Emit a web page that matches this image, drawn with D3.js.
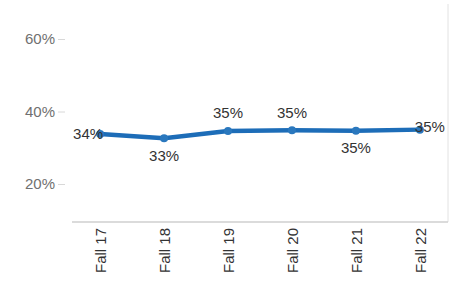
<!DOCTYPE html>
<html>
<head>
<meta charset="utf-8">
<script src="https://cdn.jsdelivr.net/npm/d3@7"></script>
<style>
  body { margin: 0; background: #fff; }
  svg { display: block; font-family: "Liberation Sans", Arial, sans-serif; }
</style>
</head>
<body>
<div id="chart"></div>
<script>
const terms = ["Fall 17", "Fall 18", "Fall 19", "Fall 20", "Fall 21", "Fall 22"];
const rates = [33.8, 32.6, 34.6, 34.8, 34.7, 35.0];
// where each value label sits relative to its point
const labelPos = ["left", "below", "above", "above", "below", "right"];
const yTicks = [20, 40, 60];

const width = 457, height = 284;

const svg = d3.select("#chart").append("svg")
  .attr("width", width)
  .attr("height", height);

const x = d3.scalePoint()
  .domain(terms)
  .range([72, 448])
  .padding(0.44);

const y = d3.scaleLinear()
  .domain([10, 70])
  .range([220.25, 2.75]);

// frame: right edge and bottom line
svg.append("line")
  .attr("x1", 448).attr("x2", 448)
  .attr("y1", 4).attr("y2", 222)
  .attr("stroke", "#e2e2e2");

// y axis
const yAxis = svg.append("g")
  .attr("transform", "translate(65,0)")
  .call(d3.axisLeft(y).tickValues(yTicks).tickFormat(d => d + "%").tickSize(7).tickPadding(3));
yAxis.select(".domain").remove();
yAxis.selectAll(".tick line").attr("stroke", "#d8d8d8");
yAxis.selectAll(".tick text")
  .attr("fill", "#707070")
  .style("font-size", "15px")
  .style("font-family", "'Liberation Sans', Arial, sans-serif");

// x axis
const xAxis = svg.append("g")
  .attr("transform", "translate(0,222)")
  .call(d3.axisBottom(x).tickSize(0).tickPadding(6));
xAxis.select(".domain")
  .attr("stroke", "#cfcfcf")
  .attr("stroke-width", 1.5)
  .attr("d", "M72,0H448");
xAxis.selectAll(".tick text")
  .attr("transform", "rotate(-90)")
  .attr("text-anchor", "end")
  .attr("x", -6)
  .attr("y", 0)
  .attr("dy", "0.35em")
  .attr("fill", "#333")
  .style("font-size", "15px")
  .style("font-family", "'Liberation Sans', Arial, sans-serif");

const pts = terms.map((t, i) => ({t, v: rates[i], pos: labelPos[i]}));

svg.append("path")
  .datum(pts)
  .attr("fill", "none")
  .attr("stroke", "#1d6db8")
  .attr("stroke-width", 4.5)
  .attr("stroke-linejoin", "round")
  .attr("d", d3.line().x(d => x(d.t)).y(d => y(d.v)));

svg.append("g")
  .selectAll("circle")
  .data(pts)
  .join("circle")
  .attr("cx", d => x(d.t))
  .attr("cy", d => y(d.v))
  .attr("r", 4)
  .attr("fill", "#2a78be");

const off = {
  left:  {dx: 3, dy: 0, anchor: "end"},
  right: {dx: -5, dy: -3, anchor: "start"},
  above: {dx: 0, dy: -18, anchor: "middle"},
  below: {dx: 0, dy: 17, anchor: "middle"}
};

svg.append("g")
  .selectAll("text")
  .data(pts)
  .join("text")
  .attr("x", d => x(d.t) + off[d.pos].dx)
  .attr("y", d => y(d.v) + off[d.pos].dy)
  .attr("dy", "0.35em")
  .attr("text-anchor", d => off[d.pos].anchor)
  .attr("fill", "#333")
  .style("font-size", "15px")
  .text(d => Math.round(d.v) + "%");
</script>
</body>
</html>
